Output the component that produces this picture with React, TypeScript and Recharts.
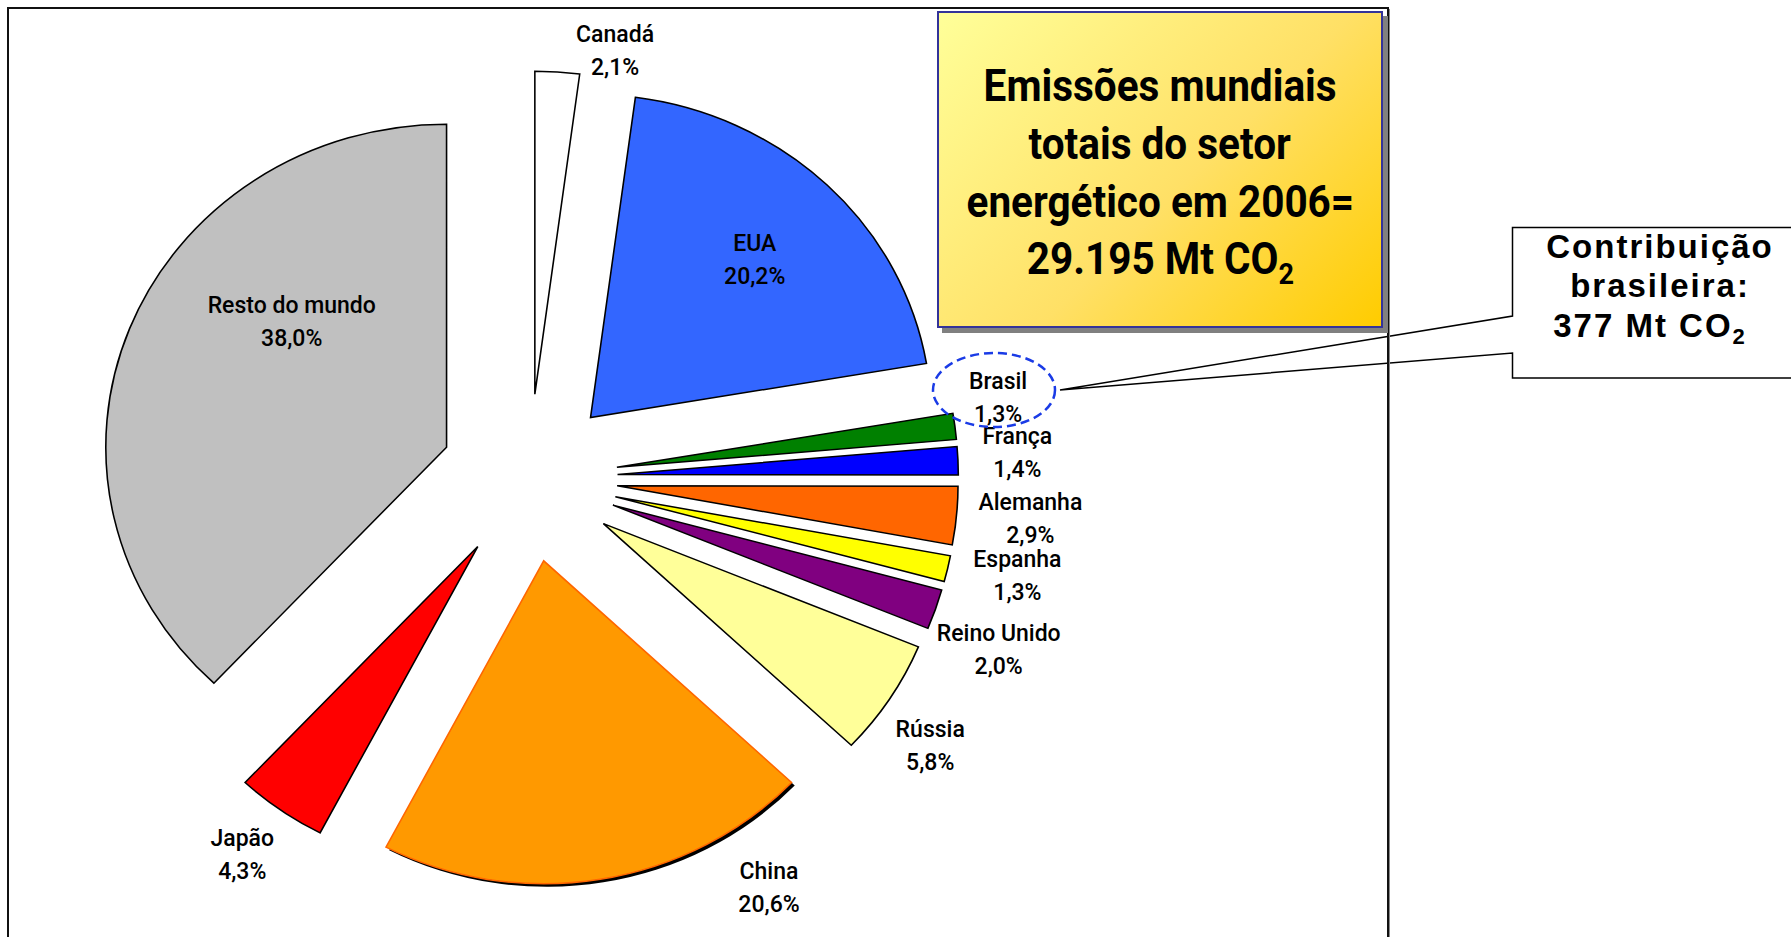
import React from 'react';
import { PieChart, Pie, Cell, Sector, Tooltip } from 'recharts';

// ---- data ----
const countries = ['Canadá', 'EUA', 'Brasil', 'França', 'Alemanha', 'Espanha', 'Reino Unido', 'Rússia', 'China', 'Japão', 'Resto do mundo'];
const shares = [2.1, 20.2, 1.3, 1.4, 2.9, 1.3, 2.0, 5.8, 20.6, 4.3, 38.0];
const titleLines = ['Emissões mundiais', 'totais do setor', 'energético em 2006=', '29.195 Mt CO'];
const calloutLines = ['Contribuição', 'brasileira:', '377 Mt CO'];

// ---- styles ----
const fills = ['#FFFFFF', '#3366FF', '#008000', '#0000FF', '#FF6600', '#FFFF00', '#800080', '#FFFF99', '#FF9900', '#FF0000', '#C0C0C0'];
const strokes = ['#000', '#000', '#000', '#000', '#000', '#000', '#000', '#000', '#FF6600', '#000', '#000'];
const shadowed = [false, false, false, false, false, false, false, false, true, false, false];
const labelRadius = [436, 314, 476, 489, 503, 498, 500, 482, 475, 473, 284];
const labelShift = [7.6, 2.0, -2.44, -0.58, -0.73, -1.64, 1.22, 0.77, -20.8, 2.0, 11.8];
const EXPLODE = 84;
const STRETCH_X = 1.055;
const RAD = Math.PI / 180;
const LABEL_FONT = "Roboto, 'Liberation Sans', sans-serif";

const data = countries.map((name, i) => ({ name, value: shares[i] }));

const ExplodedSector = (props: any) => {
  const { midAngle, name, cx, cy } = props;
  const i = countries.indexOf(name);
  const dx = EXPLODE * Math.cos(-midAngle * RAD);
  const dy = EXPLODE * Math.sin(-midAngle * RAD);
  return (
    <g transform={`translate(${cx},${cy}) scale(${STRETCH_X},1) translate(${-cx},${-cy}) translate(${dx},${dy})`}>
      {shadowed[i] && <Sector {...props} cx={cx + 3} cy={cy + 3} fill="#000" stroke="none" />}
      <Sector {...props} />
    </g>
  );
};

const renderLabel = (p: any) => {
  const i = countries.indexOf(p.name);
  const a = (p.midAngle - labelShift[i]) * RAD;
  const x = p.cx + labelRadius[i] * Math.cos(a);
  const y = p.cy - labelRadius[i] * Math.sin(a);
  const pct = shares[i].toFixed(1).replace('.', ',') + '%';
  return (
    <text key={`l${i}`} textAnchor="middle" fontFamily={LABEL_FONT} fontWeight={500} fontSize={23} fill="#000">
      <tspan x={x} y={y - 8.5}>{countries[i]}</tspan>
      <tspan x={x} y={y + 24.5}>{pct}</tspan>
    </text>
  );
};

export default function App() {
  return (
    <div style={{ position: 'absolute', left: 0, top: 0, width: 1791, height: 937, overflow: 'hidden', background: '#fff' }}>
      <div style={{ position: 'absolute', left: 0, top: 0 }}>
        <PieChart width={1791} height={937} margin={{ top: 0, right: 0, bottom: 0, left: 0 }}>
          <Pie
            data={data}
            dataKey="value"
            nameKey="name"
            cx={529}
            cy={478}
            outerRadius={323}
            startAngle={90}
            endAngle={-270}
            stroke="#000"
            strokeWidth={1.5}
            isAnimationActive={false}
            label={renderLabel}
            labelLine={false}
            shape={ExplodedSector}
            activeShape={ExplodedSector}
            inactiveShape={ExplodedSector}
          >
            {data.map((d, i) => (
              <Cell key={d.name} fill={fills[i]} stroke={strokes[i]} />
            ))}
          </Pie>
          <Tooltip defaultIndex={0} content={() => null} cursor={false} />
        </PieChart>
      </div>
      <svg width={1791} height={937} style={{ position: 'absolute', left: 0, top: 0, pointerEvents: 'none' }}>
        <path d="M 1810 227.5 H 1512.5 V 316 L 1060 390 L 1512.5 353 V 378 H 1810" fill="#fff" stroke="#000" strokeWidth={1.5} />
        <rect x={8} y={8} width={1380} height={1000} fill="none" stroke="#111" strokeWidth={2} />
        <line x1={1389.5} y1={9} x2={1389.5} y2={937} stroke="#888" strokeWidth={1} />
        <ellipse cx={994} cy={390} rx={61} ry={37} fill="none" stroke="#1a3be6" strokeWidth={2.5} strokeDasharray="9 5" />
        <text textAnchor="middle" fontFamily="'Liberation Sans', Arial, sans-serif" fontWeight="bold" fontSize={33} letterSpacing={2} fill="#000">
          <tspan x={1660} y={258}>{calloutLines[0]}</tspan>
          <tspan x={1660} y={297}>{calloutLines[1]}</tspan>
          <tspan x={1650} y={337}>{calloutLines[2]}</tspan>
          <tspan fontSize={22} dy={7}>2</tspan>
        </text>
      </svg>
      <div
        style={{
          position: 'absolute',
          left: 937,
          top: 11,
          width: 442,
          height: 313,
          boxSizing: 'content-box',
          border: '2px solid #333399',
          background: 'linear-gradient(135deg, #FFFF99 0%, #FFE066 55%, #FFCC00 100%)',
          boxShadow: '5px 5px 0 #808080',
          display: 'flex',
          flexDirection: 'column',
          justifyContent: 'center',
          alignItems: 'center',
          paddingTop: 0,
          fontFamily: "Roboto, 'Liberation Sans', sans-serif",
          fontWeight: 700,
          fontSize: 45,
          lineHeight: '57.7px',
          color: '#000',
          textAlign: 'center',
        }}
      >
        {titleLines.map((t, i) => (
          <div key={i} style={{ whiteSpace: 'nowrap', transform: 'translateY(3px) scaleX(0.9)' }}>
            {t}
            {i === titleLines.length - 1 && <sub style={{ fontSize: 30, verticalAlign: '-10px', lineHeight: 0 }}>2</sub>}
          </div>
        ))}
      </div>
    </div>
  );
}
